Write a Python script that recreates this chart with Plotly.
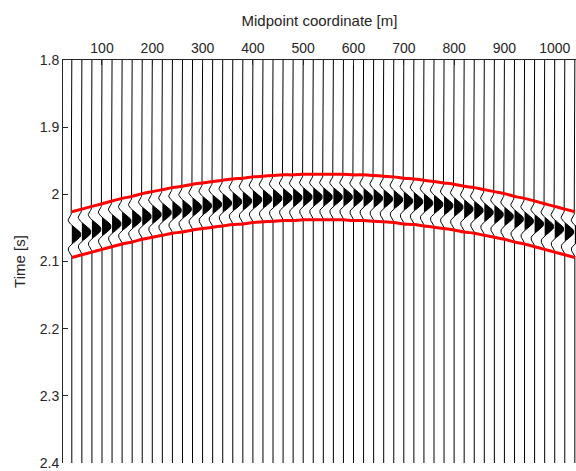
import numpy as np
import plotly.graph_objects as go

# ---- data ----
midpoints = list(range(40, 1041, 20))  # trace midpoint coordinates [m]

# event (reflection) centre time for each trace [s]
event_times = [2.060, 2.056, 2.052, 2.048, 2.044, 2.040, 2.037, 2.033, 2.030, 2.027,
               2.024, 2.022, 2.019, 2.017, 2.015, 2.013, 2.011, 2.010, 2.008, 2.007,
               2.006, 2.005, 2.005, 2.004, 2.004, 2.004, 2.004, 2.004, 2.005, 2.005,
               2.006, 2.007, 2.008, 2.010, 2.011, 2.013, 2.015, 2.017, 2.019, 2.022,
               2.024, 2.027, 2.030, 2.033, 2.037, 2.040, 2.044, 2.048, 2.052, 2.056,
               2.060]

# wavelet samples, 2 ms apart, from -0.034 s to +0.034 s
wavelet_dt = 0.002
wavelet = [0.0, -0.016, -0.069, -0.159, -0.268, -0.362, -0.405, -0.372, -0.281, -0.154,
           0.006, 0.189, 0.384, 0.576, 0.747, 0.883, 0.970, 1.0, 0.970, 0.883,
           0.747, 0.576, 0.384, 0.189, 0.006, -0.154, -0.281, -0.372, -0.405, -0.362,
           -0.268, -0.159, -0.069, -0.016, 0.0]

window_half = 0.034   # half-width of the red window around the event [s]
gain = 18.0           # peak trace deflection in metres
t_top, t_bot = 1.8, 2.4

x_ticks = [100, 200, 300, 400, 500, 600, 700, 800, 900, 1000]
y_ticks = [1.8, 1.9, 2.0, 2.1, 2.2, 2.3, 2.4]
y_ticklabels = ["1.8", "1.9", "2", "2.1", "2.2", "2.3", "2.4"]

# ---- build traces ----
w = np.array(wavelet)
n = len(w)
tw = (np.arange(n) - (n - 1) / 2) * wavelet_dt

line_x, line_y = [], []
fill_x, fill_y = [], []
for x0, te in zip(midpoints, event_times):
    ys = te + tw
    xs = x0 + gain * w
    line_x += [x0] + list(xs) + [x0, None]
    line_y += [t_top] + list(ys) + [t_bot, None]
    pos = np.maximum(w, 0)
    idx = np.where(pos > 0)[0]
    i0, i1 = idx[0] - 1, idx[-1] + 1
    fx = list(x0 + gain * pos[i0:i1 + 1])
    fy = list(ys[i0:i1 + 1])
    fill_x += fx + [x0, None]
    fill_y += fy + [fy[0], None]

upper = [te - window_half for te in event_times]
lower = [te + window_half for te in event_times]

fig = go.Figure()
fig.add_trace(go.Scatter(x=fill_x, y=fill_y, mode="lines", fill="toself",
                         fillcolor="black", line=dict(width=0, color="black"),
                         hoverinfo="skip", showlegend=False))
fig.add_trace(go.Scatter(x=line_x, y=line_y, mode="lines",
                         line=dict(width=1, color="black"),
                         hoverinfo="skip", showlegend=False))
fig.add_trace(go.Scatter(x=midpoints, y=upper, mode="lines",
                         line=dict(width=3, color="#ff0000", shape="spline"),
                         showlegend=False))
fig.add_trace(go.Scatter(x=midpoints, y=lower, mode="lines",
                         line=dict(width=3, color="#ff0000", shape="spline"),
                         showlegend=False))

axis_color = "#262626"
fam = "Liberation Sans, Arial, sans-serif"
fig.update_layout(
    width=576, height=471,
    margin=dict(l=63, r=0, t=60, b=6),
    paper_bgcolor="white", plot_bgcolor="white",
    font=dict(family=fam, size=14, color=axis_color),
    xaxis=dict(side="top", range=[22.5, 1042.3], tickvals=x_ticks,
               ticks="inside", ticklen=5, tickcolor=axis_color,
               tickfont=dict(family=fam, size=14, color=axis_color),
               ticklabeloverflow="allow",
               showline=True, linecolor=axis_color, linewidth=1,
               showgrid=False, zeroline=False,
               title=dict(text="Midpoint coordinate [m]", standoff=10,
                          font=dict(family=fam, size=15, color=axis_color))),
    yaxis=dict(range=[2.4, 1.8], tickvals=y_ticks, ticktext=y_ticklabels,
               ticks="inside", ticklen=5, tickcolor=axis_color,
               tickfont=dict(family=fam, size=14, color=axis_color),
               ticklabeloverflow="allow",
               showline=True, linecolor=axis_color, linewidth=1,
               showgrid=False, zeroline=False,
               title=dict(text="Time [s]", standoff=10,
                          font=dict(family=fam, size=15, color=axis_color))),
)

fig.write_html("out.html")
